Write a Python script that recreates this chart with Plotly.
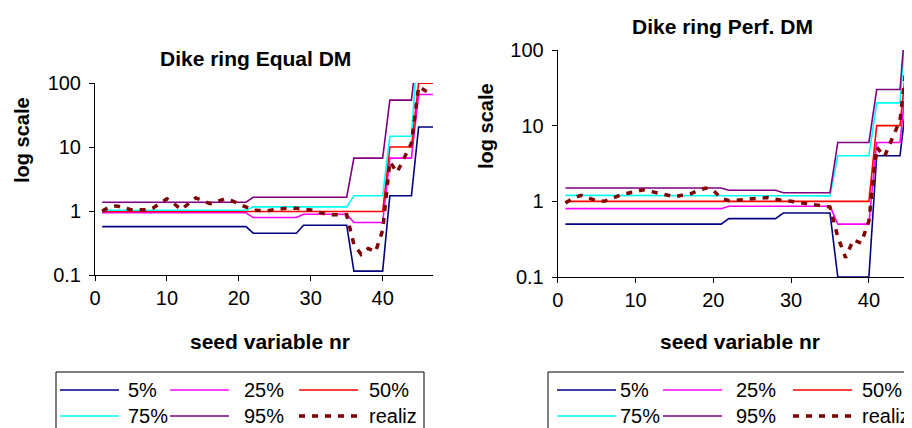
import plotly.graph_objects as go

# page is rendered with an 8px body margin; figure is laid out in page pixels
OFF = 8
PAGE_W, PAGE_H = 912, 428
W, H = PAGE_W - OFF, PAGE_H - OFF

seed_nr = [1, 2, 3, 4, 5, 6, 7, 8, 9, 10, 11, 12, 13, 14, 15, 16, 17, 18, 19, 20,
           21, 22, 23, 24, 25, 26, 27, 28, 29, 30, 31, 32, 33, 34, 35, 36, 37, 38, 39, 40,
           41, 42, 43, 44, 45, 46, 47]

# ---- Dike ring Equal DM ----
eq_p05 = [0.57, 0.57, 0.57, 0.57, 0.57, 0.57, 0.57, 0.57, 0.57, 0.57, 0.57, 0.57, 0.57, 0.57, 0.57, 0.57, 0.57, 0.57, 0.57, 0.57,
          0.57, 0.45, 0.45, 0.45, 0.45, 0.45, 0.45, 0.45, 0.6, 0.6, 0.6, 0.6, 0.6, 0.6, 0.6, 0.115, 0.115, 0.115, 0.115, 0.115,
          1.73, 1.73, 1.73, 1.73, 20.5, 20.5, 20.5]
eq_p25 = [0.94, 0.94, 0.94, 0.94, 0.94, 0.94, 0.94, 0.94, 0.94, 0.94, 0.94, 0.94, 0.94, 0.94, 0.94, 0.94, 0.94, 0.94, 0.94, 0.94,
          0.94, 0.79, 0.79, 0.79, 0.79, 0.79, 0.79, 0.79, 0.89, 0.89, 0.89, 0.89, 0.89, 0.89, 0.89, 0.66, 0.66, 0.66, 0.66, 0.66,
          6.7, 6.7, 6.7, 6.7, 66, 66, 66]
eq_p50 = [0.98, 0.98, 0.98, 0.98, 0.98, 0.98, 0.98, 0.98, 0.98, 0.98, 0.98, 0.98, 0.98, 0.98, 0.98, 0.98, 0.98, 0.98, 0.98, 0.98,
          0.98, 0.98, 0.98, 0.98, 0.98, 0.98, 0.98, 0.98, 0.98, 0.98, 0.98, 0.98, 0.98, 0.98, 0.98, 0.98, 0.98, 0.98, 0.98, 0.98,
          10, 10, 10, 10, 99.5, 99.5, 99.5]
eq_p75 = [1.03, 1.03, 1.03, 1.03, 1.03, 1.03, 1.03, 1.03, 1.03, 1.03, 1.03, 1.03, 1.03, 1.03, 1.03, 1.03, 1.03, 1.03, 1.03, 1.03,
          1.03, 1.16, 1.16, 1.16, 1.16, 1.16, 1.16, 1.16, 1.16, 1.16, 1.16, 1.16, 1.16, 1.16, 1.16, 1.73, 1.73, 1.73, 1.73, 1.73,
          14.7, 14.7, 14.7, 14.7, 600, 600, 600]
eq_p95 = [1.37, 1.37, 1.37, 1.37, 1.37, 1.37, 1.37, 1.37, 1.37, 1.37, 1.37, 1.37, 1.37, 1.37, 1.37, 1.37, 1.37, 1.37, 1.37, 1.37,
          1.37, 1.64, 1.64, 1.64, 1.64, 1.64, 1.64, 1.64, 1.64, 1.64, 1.64, 1.64, 1.64, 1.64, 1.64, 6.7, 6.7, 6.7, 6.7, 6.7,
          54, 54, 54, 54, 500, 500, 500]
eq_real = [1.0, 1.15, 1.2, 1.12, 1.05, 1.05, 1.05, 1.1, 1.3, 1.55, 1.3, 1.05, 1.3, 1.6, 1.45, 1.3, 1.4, 1.55, 1.45, 1.3,
           1.15, 1.03, 1.02, 1.01, 1.05, 1.1, 1.12, 1.1, 1.06, 1.04, 0.97, 0.9, 0.87, 0.87, 0.87, 0.3, 0.21, 0.26, 0.23, 0.5,
           5.9, 4.0, 6.9, 11.5, 88, 75, 67]

# ---- Dike ring Perf. DM ----
pf_p05 = [0.5, 0.5, 0.5, 0.5, 0.5, 0.5, 0.5, 0.5, 0.5, 0.5, 0.5, 0.5, 0.5, 0.5, 0.5, 0.5, 0.5, 0.5, 0.5, 0.5,
          0.5, 0.59, 0.59, 0.59, 0.59, 0.59, 0.59, 0.59, 0.7, 0.7, 0.7, 0.7, 0.7, 0.7, 0.7, 0.1, 0.1, 0.1, 0.1, 0.1,
          4.0, 4.0, 4.0, 4.0, 30, 30, 30]
pf_p25 = [0.8, 0.8, 0.8, 0.8, 0.8, 0.8, 0.8, 0.8, 0.8, 0.8, 0.8, 0.8, 0.8, 0.8, 0.8, 0.8, 0.8, 0.8, 0.8, 0.8,
          0.8, 0.86, 0.86, 0.86, 0.86, 0.86, 0.86, 0.86, 0.86, 0.86, 0.86, 0.86, 0.86, 0.86, 0.86, 0.5, 0.5, 0.5, 0.5, 0.5,
          6.0, 6.0, 6.0, 6.0, 59, 59, 59]
pf_p50 = [1.0, 1.0, 1.0, 1.0, 1.0, 1.0, 1.0, 1.0, 1.0, 1.0, 1.0, 1.0, 1.0, 1.0, 1.0, 1.0, 1.0, 1.0, 1.0, 1.0,
          1.0, 1.0, 1.0, 1.0, 1.0, 1.0, 1.0, 1.0, 1.0, 1.0, 1.0, 1.0, 1.0, 1.0, 1.0, 1.0, 1.0, 1.0, 1.0, 1.0,
          10, 10, 10, 10, 99.5, 99.5, 99.5]
pf_p75 = [1.2, 1.2, 1.2, 1.2, 1.2, 1.2, 1.2, 1.2, 1.2, 1.2, 1.2, 1.2, 1.2, 1.2, 1.2, 1.2, 1.2, 1.2, 1.2, 1.2,
          1.2, 1.18, 1.18, 1.18, 1.18, 1.18, 1.18, 1.18, 1.18, 1.18, 1.18, 1.18, 1.18, 1.18, 1.18, 4.0, 4.0, 4.0, 4.0, 4.0,
          20, 20, 20, 20, 500, 500, 500]
pf_p95 = [1.5, 1.5, 1.5, 1.5, 1.5, 1.5, 1.5, 1.5, 1.5, 1.5, 1.5, 1.5, 1.5, 1.5, 1.5, 1.5, 1.5, 1.5, 1.5, 1.5,
          1.5, 1.4, 1.4, 1.4, 1.4, 1.4, 1.4, 1.4, 1.3, 1.3, 1.3, 1.3, 1.3, 1.3, 1.3, 6.0, 6.0, 6.0, 6.0, 6.0,
          30, 30, 30, 30, 600, 600, 600]
pf_real = [0.95, 1.1, 1.2, 1.12, 1.02, 1.0, 1.1, 1.2, 1.28, 1.35, 1.42, 1.35, 1.27, 1.2, 1.15, 1.2, 1.25, 1.38, 1.5, 1.4,
           1.1, 1.02, 1.03, 1.05, 1.08, 1.1, 1.12, 1.07, 1.02, 1.0, 0.97, 0.94, 0.9, 0.87, 0.84, 0.34, 0.18, 0.31, 0.28, 0.55,
           5.2, 3.9, 6.8, 11.8, 95, 80, 70]

series_names = ["5%", "25%", "50%", "75%", "95%", "realiz"]
series_colors = ["#000080", "#FF00FF", "#FF0000", "#00FFFF", "#800080", "#800000"]
y_tickvals = [0.1, 1, 10, 100]
y_ticktext = ["0.1", "1", "10", "100"]
x_tickvals = [0, 10, 20, 30, 40]

FONT = "Liberation Sans, Arial, sans-serif"
TICK_SIZE = 20
TITLE_SIZE = 21
LEG_SIZE = 20


def px(x):
    return (x - OFF) / W


def py(y):
    return 1 - (y - OFF) / H


fig = go.Figure()

panels = [
    ([eq_p05, eq_p25, eq_p50, eq_p75, eq_p95, eq_real], "x", "y"),
    ([pf_p05, pf_p25, pf_p50, pf_p75, pf_p95, pf_real], "x2", "y2"),
]
for data, xa, ya in panels:
    for name, col, vals in zip(series_names, series_colors, data):
        if name == "realiz":
            line = dict(color=col, width=3.5, dash="6px,7px")
        else:
            line = dict(color=col, width=1.6)
        fig.add_trace(go.Scatter(x=seed_nr, y=vals, mode="lines", name=name,
                                 line=line, xaxis=xa, yaxis=ya, showlegend=False,
                                 hoverinfo="skip"))

xcommon = dict(tickvals=x_tickvals, ticks="outside", ticklen=5, tickcolor="black",
               showline=True, linecolor="black", linewidth=1, showgrid=False,
               zeroline=False, tickfont=dict(family=FONT, size=TICK_SIZE, color="black"),
               automargin=False)
ycommon = dict(type="log", range=[-1, 2], tickvals=y_tickvals, ticktext=y_ticktext,
               ticks="outside", ticklen=5, tickcolor="black", showline=True,
               linecolor="black", linewidth=1, showgrid=False, zeroline=False,
               ticklabelstandoff=4,
               tickfont=dict(family=FONT, size=TICK_SIZE, color="black"), automargin=False)

fig.update_layout(
    width=W, height=H, template="none",
    margin=dict(l=0, r=0, t=0, b=0),
    paper_bgcolor="white", plot_bgcolor="white",
    showlegend=False,
    xaxis=dict(domain=[px(95), px(433)], range=[0, 47], anchor="y", **xcommon),
    yaxis=dict(domain=[py(275), py(83)], anchor="x", **ycommon),
    xaxis2=dict(domain=[px(557.7), 1.0], range=[0, (PAGE_W - 557.7) / 7.78], anchor="y2", **xcommon),
    yaxis2=dict(domain=[py(277), py(50)], anchor="x2", **ycommon),
)

ann = []


def text(x, y, s, size=TICK_SIZE, bold=False, xanchor="center", angle=0):
    ann.append(dict(x=px(x), y=py(y), xref="paper", yref="paper", text=("<b>%s</b>" % s) if bold else s,
                    showarrow=False, xanchor=xanchor, yanchor="middle", textangle=angle,
                    font=dict(family=FONT, size=size, color="black")))


# titles
text(255, 58, "Dike ring Equal DM", size=TITLE_SIZE, bold=True)
text(722, 27, "Dike ring Perf. DM", size=TITLE_SIZE, bold=True)
text(270, 341, "seed variable nr", size=TITLE_SIZE, bold=True)
text(740, 341, "seed variable nr", size=TITLE_SIZE, bold=True)
text(22, 140, "log scale", size=LEG_SIZE, bold=True, angle=-90)
text(486, 126, "log scale", size=LEG_SIZE, bold=True, angle=-90)

shapes = []
# legends (drawn manually to follow the original two-row layout)
legend_specs = [
    (56, 424, [60, 170, 299], [126, 242, 367]),
    (548, 960, [557, 663, 793], [618, 734, 860]),
]
rows = [390, 416]
for bx0, bx1, lx, tx in legend_specs:
    shapes.append(dict(type="rect", xref="paper", yref="paper", x0=px(bx0), x1=px(bx1),
                       y0=py(440), y1=py(372), line=dict(color="black", width=1),
                       fillcolor="rgba(0,0,0,0)"))
    for i, (name, col) in enumerate(zip(series_names, series_colors)):
        r = rows[i // 3]
        c = i % 3
        if name == "realiz":
            ln = dict(color=col, width=3.5, dash="6px,7px")
        else:
            ln = dict(color=col, width=1.6)
        shapes.append(dict(type="line", xref="paper", yref="paper", x0=px(lx[c]), x1=px(lx[c] + 59),
                           y0=py(r), y1=py(r), line=ln))
        text(tx[c], r, name, size=LEG_SIZE, xanchor="left")

fig.update_layout(annotations=ann, shapes=shapes)
fig.write_html("out.html")
